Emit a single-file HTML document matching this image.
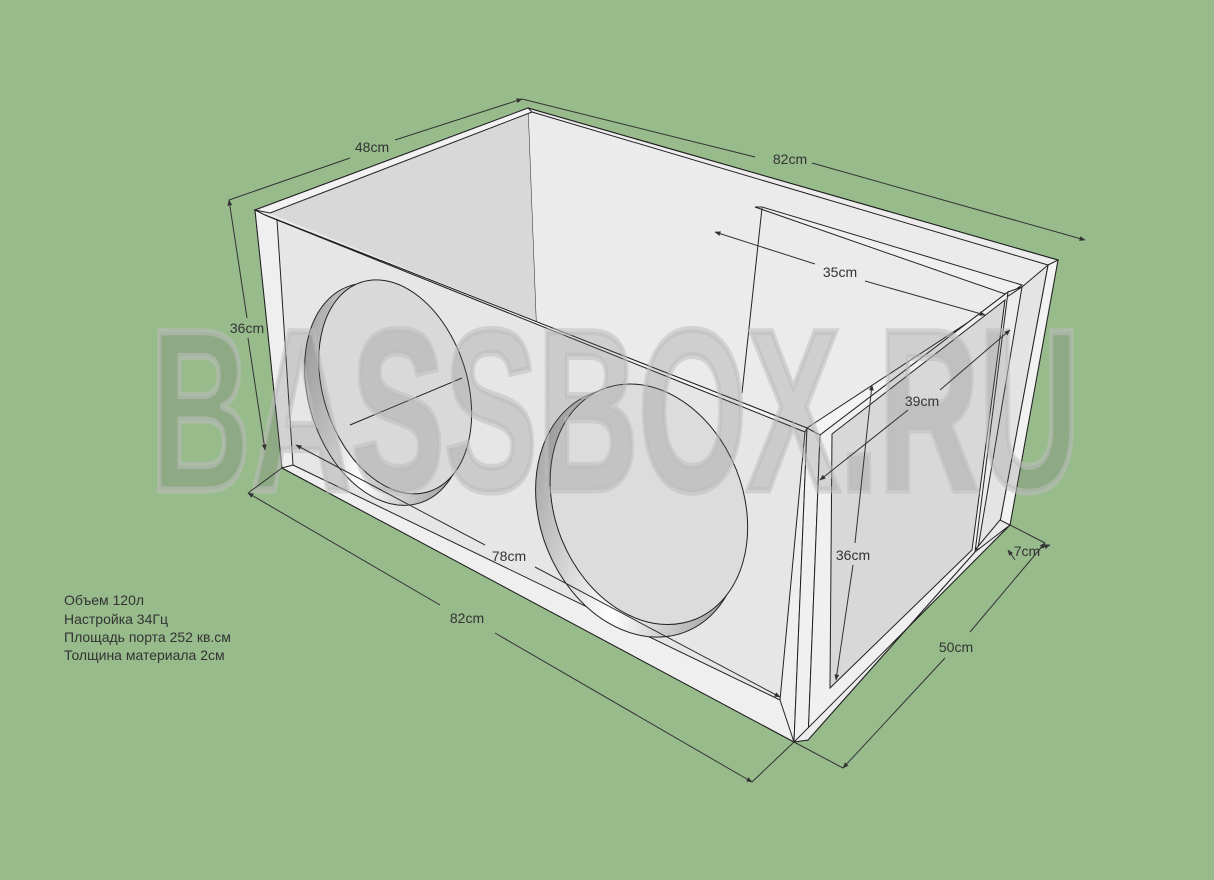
<!DOCTYPE html>
<html><head><meta charset="utf-8"><style>
html,body{margin:0;padding:0;background:#98bb8c;}
svg{display:block}
text{font-family:"Liberation Sans",sans-serif;}
</style></head><body>
<svg width="1214" height="880" viewBox="0 0 1214 880" xmlns="http://www.w3.org/2000/svg">
<defs>
<marker id="a" viewBox="0 0 10 10" refX="9" refY="5" markerWidth="8" markerHeight="6" orient="auto-start-reverse"><path d="M0,1 L10,5 L0,9 z" fill="#333"/></marker>
<linearGradient id="rim" x1="0" y1="0" x2="1" y2="1"><stop offset="0" stop-color="#888"/><stop offset="0.5" stop-color="#fff"/><stop offset="1" stop-color="#777"/></linearGradient>
</defs>
<rect width="1214" height="880" fill="#98bb8c"/>
<!-- silhouette -->
<polygon points="255,210 528,108 1058,260 1010,525 794,742 282,468" fill="#ececec" stroke="#222" stroke-width="1"/>
<!-- back wall -->
<polygon points="528,112 1050,264 1022,287 1010,300 980,550 830,690 536,321" fill="#ebebeb"/>
<line x1="528" y1="112" x2="536" y2="321" stroke="#222"/>
<!-- left inner wall -->
<polygon points="268,213 528,112 536,321" fill="#d8d8d8"/>
<!-- top rim left -->
<polygon points="255,210 528,108 532,112 270,213" fill="#f2f2f2" stroke="#222" stroke-width="1"/>
<line x1="528" y1="108" x2="1058" y2="260" stroke="#222"/>
<line x1="532" y1="112" x2="1048" y2="265" stroke="#222"/>
<!-- port partition -->
<polygon points="755,207 762,207 1022,285 1015,290 1020,288 1005,294" fill="#f0f0f0" stroke="#222"/>
<line x1="762" y1="208" x2="742" y2="393" stroke="#222"/>
<!-- right end panel strip -->
<polygon points="1048,265 1058,260 1010,525 1000,522" fill="#f2f2f2" stroke="#222"/>
<polygon points="1022,287 1048,265 1000,522 978,548" fill="#e4e4e4" stroke="#222"/>
<!-- bottom right port floor -->
<polygon points="975,550 1000,520 1010,525 990,545" fill="#e8e8e8" stroke="#222"/>
<!-- front panel outer -->
<polygon points="255,210 265,215 807,428 794,742 282,468" fill="#efefef" stroke="#222"/>
<polygon points="265,215 807,428 805,432 277,220" fill="#f5f5f5" stroke="#222"/>
<polygon points="277,220 805,432 780,700 293,465" fill="#e6e6e6" stroke="#222"/>
<line x1="293" y1="465" x2="282" y2="468" stroke="#222"/>
<line x1="780" y1="700" x2="794" y2="742" stroke="#222"/>
<!-- right front end panel -->
<polygon points="807,428 1022,287 1008,292 820,435" fill="#f4f4f4" stroke="#222"/>
<polygon points="807,428 820,435 808,740 794,742" fill="#f0f0f0" stroke="#222"/>
<polygon points="820,435 1008,292 975,552 808,740" fill="#f0f0f0" stroke="#222"/>
<polygon points="832,434 1005,300 972,550 830,688" fill="#d8d8d8" stroke="#222"/>
<polygon points="808,740 975,552 1010,525 794,742" fill="#ececec" stroke="#222"/>
<!-- holes -->
<g transform="rotate(-18 392 390)"><ellipse cx="384" cy="392" rx="76" ry="114" fill="url(#rim)" stroke="#222"/><ellipse cx="396" cy="388" rx="72" ry="110" fill="#d9d9d9" stroke="#222"/></g>
<line x1="350" y1="425" x2="462" y2="378" stroke="#222"/>
<g transform="rotate(-22 645 508)"><ellipse cx="637" cy="510" rx="98" ry="128" fill="url(#rim)" stroke="#222"/><ellipse cx="650" cy="506" rx="94" ry="124" fill="#dcdcdc" stroke="#222"/></g>
<!-- watermark -->
<text x="150" y="490" font-size="230" font-weight="bold" textLength="930" lengthAdjust="spacingAndGlyphs" fill="rgba(110,110,110,0.22)" stroke="rgba(190,190,190,0.55)" stroke-width="7">BASSBOX.RU</text>
<!-- dimensions -->
<g stroke="#333" stroke-width="1" fill="none">
<line x1="229" y1="200" x2="350" y2="158"/><line x1="395" y1="140" x2="522" y2="99" marker-end="url(#a)"/>
<line x1="522" y1="99" x2="755" y2="157" /><line x1="812" y1="163" x2="1085" y2="240" marker-end="url(#a)"/>
<line x1="229" y1="200" x2="247" y2="318" marker-start="url(#a)"/><line x1="248" y1="338" x2="265" y2="450" marker-end="url(#a)"/>
<line x1="715" y1="232" x2="815" y2="264" marker-start="url(#a)"/><line x1="865" y1="281" x2="985" y2="315" marker-end="url(#a)"/>
<line x1="1010" y1="330" x2="940" y2="390" marker-start="url(#a)"/><line x1="908" y1="410" x2="820" y2="480" marker-end="url(#a)"/>
<line x1="872" y1="385" x2="855" y2="543" marker-start="url(#a)"/><line x1="853" y1="565" x2="836" y2="680" marker-end="url(#a)"/>
<line x1="296" y1="445" x2="485" y2="545" marker-start="url(#a)"/><line x1="535" y1="567" x2="780" y2="697" marker-end="url(#a)"/>
<line x1="248" y1="493" x2="440" y2="605" marker-start="url(#a)"/><line x1="495" y1="633" x2="752" y2="782" marker-end="url(#a)"/>
<line x1="843" y1="768" x2="945" y2="658" marker-start="url(#a)"/><line x1="970" y1="632" x2="1045" y2="543" marker-end="url(#a)"/>
<line x1="1015" y1="560" x2="1008" y2="550" marker-end="url(#a)"/><line x1="1040" y1="548" x2="1050" y2="545" marker-end="url(#a)"/>
<line x1="794" y1="742" x2="752" y2="782"/><line x1="794" y1="742" x2="843" y2="768"/>
<line x1="282" y1="468" x2="248" y2="493"/><line x1="1010" y1="525" x2="1045" y2="543"/>
</g>
<g font-size="14" fill="#333" text-anchor="middle">
<text x="372" y="152">48cm</text>
<text x="790" y="164">82cm</text>
<text x="247" y="333">36cm</text>
<text x="840" y="277">35cm</text>
<text x="922" y="406">39cm</text>
<text x="853" y="560">36cm</text>
<text x="509" y="561">78cm</text>
<text x="467" y="623">82cm</text>
<text x="956" y="652">50cm</text>
<text x="1027" y="556">7cm</text>
</g>
<g font-size="14" fill="#333">
<text x="64" y="605">Объем 120л</text>
<text x="64" y="624">Настройка 34Гц</text>
<text x="64" y="642">Площадь порта 252 кв.см</text>
<text x="64" y="660">Толщина материала 2см</text>
</g>
</svg>
</body></html>
